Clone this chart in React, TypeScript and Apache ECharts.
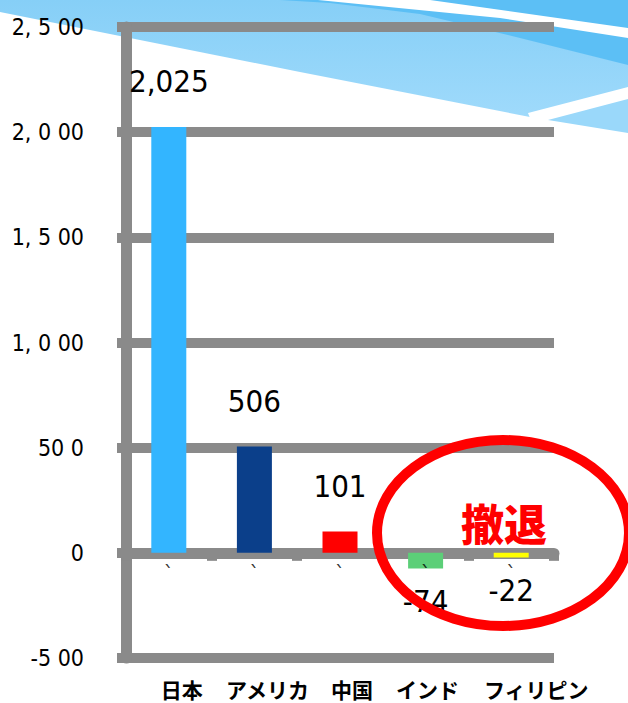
import React, { useEffect, useRef } from "react";
import * as echarts from "echarts";

// ---- data ----
const categories = ["日本", "アメリカ", "中国", "インド", "フィリピン"];
const values = [2025, 506, 101, -74, -22];
const valueLabels = ["2,025", "506", "101", "-74", "-22"];
const barColors = ["#33b5ff", "#0b3f8a", "#ff0000", "#5ccf78", "#ffff00"];
const yTickValues = [-500, 0, 500, 1000, 1500, 2000, 2500];
const yTickLabels = ["-5 00", "0", "50 0", "1, 0 00", "1, 5 00", "2, 0 00", "2, 5 00"];
const annotationText = "撤退";

// ---- layout / style (not data) ----
const LABEL_NUDGE = [13, 13, 12, 2, 25];
const MARK_LEVEL = -100;
const GRAY = "#8a8a8a";
const NUM_FONT = "'DejaVu Sans Condensed', 'DejaVu Sans', sans-serif";
const JP_FONT = "'Noto Sans CJK JP', sans-serif";

export default function App() {
  const ref = useRef<HTMLDivElement>(null);
  useEffect(() => {
    document.body.style.margin = "0";
    const chart = echarts.init(ref.current!, null, { renderer: "svg" });
    const option: any = {
      animation: false,
      backgroundColor: "#ffffff",
      grid: { left: 126, right: 74, top: 27, bottom: 45, containLabel: false, outerBoundsMode: "none" },
      xAxis: {
        type: "category",
        data: categories.map((c, i) => ({
          value: c,
          textStyle: { padding: [0, 0, 0, LABEL_NUDGE[i] * 2] },
        })),
        axisLine: { onZero: true, lineStyle: { color: GRAY, width: 11 } },
        axisTick: { show: true, length: 8, lineStyle: { color: GRAY, width: 10 } },
        axisLabel: {
          interval: 0,
          hideOverlap: false,
          margin: 20,
          color: "#000",
          fontSize: 21,
          fontWeight: "bold",
          fontFamily: JP_FONT,
        },
        splitLine: { show: false },
      },
      yAxis: {
        type: "value",
        min: -500,
        max: 2500,
        interval: 500,
        axisLine: { show: true, lineStyle: { color: GRAY, width: 11 } },
        axisTick: { show: true, length: 9, lineStyle: { color: GRAY, width: 10 } },
        splitLine: { show: true, lineStyle: { color: GRAY, width: 10 } },
        axisLabel: {
          margin: 42,
          color: "#000",
          fontSize: 23,
          fontFamily: NUM_FONT,
          formatter: (v: number) => {
            const i = yTickValues.indexOf(v);
            return i >= 0 ? yTickLabels[i] : String(v);
          },
        },
      },
      series: [
        {
          type: "bar",
          barWidth: 35,
          data: values.map((v, i) => ({
            value: v,
            itemStyle: { color: barColors[i] },
            label: {
              show: true,
              position: v >= 0 ? "top" : "bottom",
              distance: v >= 0 ? 30 : 17,
              formatter: valueLabels[i],
              color: "#000",
              fontSize: 31,
              fontFamily: NUM_FONT,
            },
          })),
        },
        {
          type: "scatter",
          symbolSize: 0,
          data: categories.map((c) => [c, MARK_LEVEL]),
          label: {
            show: true,
            position: "inside",
            formatter: "`",
            color: "#000",
            fontSize: 22,
            fontFamily: NUM_FONT,
          },
          z: 4,
        },
      ],
      graphic: {
        elements: [
          {
            type: "polygon",
            z: -10,
            silent: true,
            shape: {
              points: [
                [0, 0], [628, 0], [628, 90], [530, 117], [300, 72], [120, 36], [0, 12],
              ],
            },
            style: {
              fill: new echarts.graphic.LinearGradient(0, 0, 0, 1, [
                { offset: 0, color: "#86cff7" },
                { offset: 1, color: "#9fdafb" },
              ]),
            },
          },
          {
            type: "polygon",
            z: -9,
            silent: true,
            shape: {
              points: [[280, 0], [628, 0], [628, 65], [520, 38], [420, 14], [330, 3]],
            },
            style: { fill: "#5cbff5" },
          },
          {
            type: "polygon",
            z: -8,
            silent: true,
            shape: { points: [[318, 0], [430, 0], [628, 28], [628, 38], [500, 18]] },
            style: { fill: "#ffffff" },
          },
          {
            type: "polygon",
            z: -8,
            silent: true,
            shape: { points: [[528, 113], [628, 87], [628, 99], [548, 120], [530, 118]] },
            style: { fill: "#ffffff" },
          },
          {
            type: "polygon",
            z: -8,
            silent: true,
            shape: { points: [[548, 120], [628, 99], [628, 133]] },
            style: { fill: "#9ad8fa" },
          },
          {
            type: "ellipse",
            z: 100,
            silent: true,
            shape: { cx: 503, cy: 533, rx: 126, ry: 93 },
            style: { fill: "none", stroke: "#ff0000", lineWidth: 10 },
          },
          {
            type: "text",
            z: 101,
            silent: true,
            x: 504,
            y: 522,
            style: {
              text: annotationText,
              fill: "#ff0000",
              font: `900 43px ${JP_FONT}`,
              align: "center",
              verticalAlign: "middle",
            },
          },
        ],
      },
    };
    chart.setOption(option);
    return () => chart.dispose();
  }, []);
  return <div ref={ref} style={{ width: 628, height: 703 }} />;
}
